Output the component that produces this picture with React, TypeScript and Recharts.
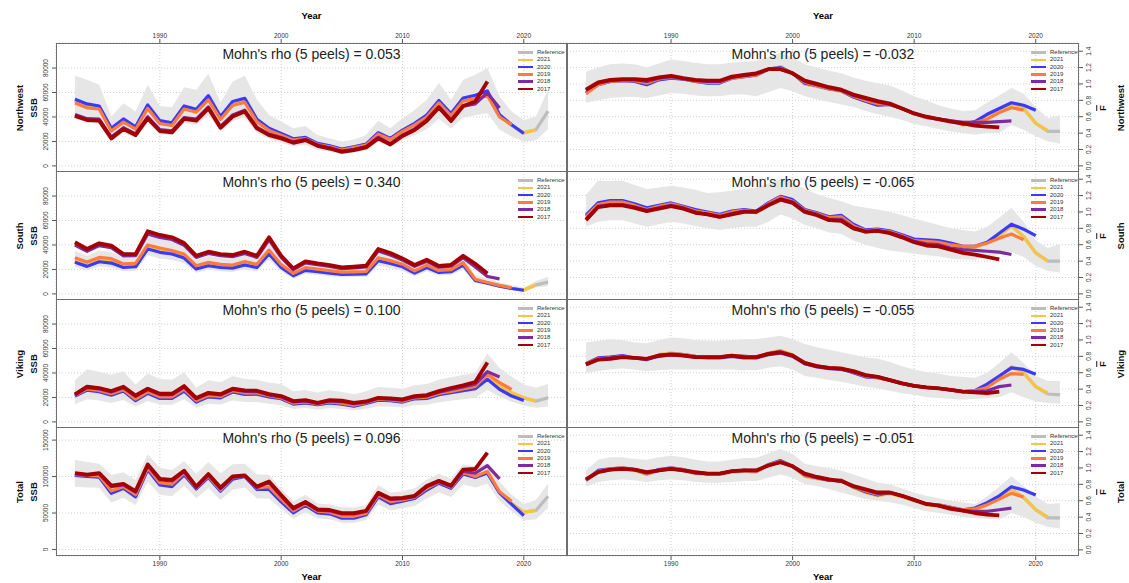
import React from 'react'
import { Area, CartesianGrid, ComposedChart, Line, XAxis, YAxis } from 'recharts'

// assessment years
const years = [
  1983, 1984, 1985, 1986, 1987, 1988, 1989, 1990, 1991, 1992,
  1993, 1994, 1995, 1996, 1997, 1998, 1999, 2000, 2001, 2002,
  2003, 2004, 2005, 2006, 2007, 2008, 2009, 2010, 2011, 2012,
  2013, 2014, 2015, 2016, 2017, 2018, 2019, 2020, 2021, 2022,
]

const seriesKeys = ['ref', 'r2021', 'r2020', 'r2019', 'r2018', 'r2017']
const legendLabels = ['Reference', '2021', '2020', '2019', '2018', '2017']
const seriesColors = ['#bdbdbd', '#f6c443', '#3a3aff', '#ff7b3c', '#7e2b9e', '#a40000']

const regions = ['Northwest', 'South', 'Viking', 'Total']
const ssbRho = ['0.053', '0.340', '0.100', '0.096']
const fRho = ['-0.032', '-0.065', '-0.055', '-0.051']

const xTicks = [1990, 2000, 2010, 2020]
const ssbTicks = [0, 20, 40, 60, 80] // thousand tonnes
const totalSsbTicks = [0, 50, 100, 150]
const fTicks = [0, 0.2, 0.4, 0.6, 0.8, 1.0, 1.2, 1.4]

// ---- SSB (thousand tonnes) ----
const nwSsbRef = [53.0, 49.2, 47.8, 29.8, 37.2, 31.0, 48.6, 35.9, 34.2, 47.8, 45.2, 55.9, 39.2, 51.2, 53.9, 37.1, 29.9, 25.8, 21.6, 22.8, 18.0, 16.0, 13.4, 15.3, 17.4, 26.6, 22.0, 28.8, 34.2, 40.9, 52.6, 42.0, 54.2, 56.0, 58.5, 40.8, 33.0, 27.2, 29.6, 44.7]
const nwSsb2021 = [53.2, 49.5, 48.0, 29.9, 37.4, 31.2, 48.8, 36.0, 34.4, 48.0, 45.4, 56.2, 39.4, 51.5, 54.2, 37.3, 30.0, 25.9, 21.7, 22.9, 18.1, 16.1, 13.5, 15.4, 17.5, 26.7, 22.1, 28.9, 34.3, 41.0, 52.8, 42.1, 54.4, 56.2, 58.8, 40.9, 33.2, 27.0, 29.6]
const nwSsb2020 = [54.5, 50.7, 49.0, 30.7, 38.4, 32.0, 49.9, 37.0, 35.3, 49.0, 46.3, 57.5, 40.3, 52.6, 55.3, 38.1, 30.7, 26.6, 22.2, 23.3, 18.4, 16.4, 13.7, 15.6, 17.8, 27.1, 22.5, 29.3, 34.8, 41.6, 53.5, 42.8, 55.5, 57.8, 61.3, 41.8, 33.6, 26.5]
const nwSsb2019 = [51.5, 47.5, 46.5, 28.5, 35.8, 30.0, 47.0, 34.5, 33.0, 46.5, 44.0, 54.0, 38.0, 49.5, 52.0, 36.0, 29.0, 25.0, 21.0, 22.3, 17.5, 15.6, 13.0, 15.0, 17.0, 26.0, 21.6, 28.2, 33.5, 40.0, 51.5, 41.0, 53.0, 55.0, 57.5, 40.0, 33.7]
const nwSsb2018 = [42.0, 38.6, 38.2, 23.6, 31.2, 26.2, 40.2, 29.6, 28.6, 39.6, 38.2, 48.2, 32.2, 41.6, 45.6, 31.6, 26.0, 23.2, 19.6, 21.8, 17.0, 14.8, 12.1, 13.5, 15.8, 23.4, 18.2, 25.2, 30.3, 37.8, 48.4, 37.6, 48.8, 50.7, 59.7, 47.4]
const nwSsb2017 = [40.8, 37.5, 37.0, 22.5, 30.1, 25.2, 38.9, 28.5, 27.4, 38.4, 37.0, 47.1, 31.2, 40.3, 44.4, 30.7, 25.2, 22.5, 18.9, 21.1, 16.4, 14.2, 11.5, 12.9, 15.1, 22.5, 17.5, 24.4, 29.3, 36.7, 47.7, 36.7, 49.0, 52.6, 69.0]
const nwSsbHi = [73.7, 70.4, 66.3, 40.3, 51.2, 44.4, 66.3, 49.0, 47.9, 64.4, 62.2, 75.3, 51.8, 69.0, 73.7, 54.0, 41.6, 36.2, 30.7, 32.6, 25.2, 22.5, 19.7, 21.6, 25.2, 37.0, 30.7, 38.9, 45.8, 54.0, 67.7, 54.0, 70.4, 74.5, 80.0, 56.7, 44.4, 37.5, 40.3, 62.2]
const nwSsbLo = [38.5, 35.5, 34.5, 20.5, 27.0, 22.5, 35.5, 26.0, 25.0, 35.0, 33.5, 41.5, 28.5, 37.0, 39.5, 27.0, 22.0, 19.0, 16.0, 17.0, 13.0, 11.5, 9.5, 11.0, 12.5, 19.5, 16.0, 21.0, 25.0, 30.0, 38.5, 30.5, 39.5, 41.5, 43.0, 29.5, 24.0, 20.0, 21.0, 30.0]

const soSsbRef = [27.0, 23.6, 27.4, 26.3, 22.6, 23.1, 37.9, 35.2, 33.7, 30.3, 21.2, 23.9, 22.5, 21.9, 24.5, 22.4, 33.7, 22.4, 15.4, 19.9, 18.7, 17.6, 16.5, 16.7, 16.9, 27.9, 25.7, 22.9, 17.5, 22.2, 18.0, 18.6, 24.1, 11.2, 9.0, 6.5, 4.5, 3.0, 7.4, 9.6]
const soSsb2021 = [27.0, 23.6, 27.5, 26.4, 22.6, 23.2, 38.0, 35.3, 33.8, 30.4, 21.3, 24.0, 22.6, 22.0, 24.6, 22.5, 33.8, 22.5, 15.5, 20.0, 18.8, 17.7, 16.6, 16.8, 17.0, 28.0, 25.8, 23.0, 17.6, 22.3, 18.1, 18.7, 24.2, 11.3, 9.0, 6.5, 4.6, 3.2, 7.4]
const soSsb2020 = [25.8, 22.5, 26.3, 25.2, 21.6, 22.2, 36.7, 34.0, 32.6, 29.3, 20.3, 23.0, 21.6, 21.1, 23.6, 21.6, 32.6, 21.6, 14.8, 19.2, 18.1, 17.0, 15.9, 16.2, 16.4, 27.1, 24.9, 22.2, 17.0, 21.6, 17.5, 18.1, 23.6, 11.0, 8.8, 6.3, 4.4, 3.0]
const soSsb2019 = [29.5, 26.0, 29.8, 28.8, 24.5, 25.0, 40.0, 37.5, 35.5, 32.5, 23.0, 25.8, 24.2, 23.6, 26.5, 24.2, 35.8, 24.0, 16.8, 21.5, 20.2, 19.0, 17.8, 18.0, 18.3, 29.5, 27.2, 24.3, 18.8, 23.5, 19.2, 19.8, 25.5, 12.0, 9.3, 7.0, 5.0]
const soSsb2018 = [40.0, 34.8, 39.5, 37.8, 31.0, 31.2, 49.0, 46.2, 44.5, 39.8, 29.8, 33.0, 31.2, 30.4, 33.0, 29.8, 44.2, 29.8, 19.8, 25.4, 23.8, 22.5, 20.6, 21.2, 22.0, 35.0, 31.8, 27.6, 22.5, 26.6, 21.8, 22.7, 29.6, 22.0, 14.2, 12.3]
const soSsb2017 = [42.2, 36.7, 41.4, 39.5, 32.6, 32.6, 51.2, 48.2, 46.3, 41.6, 31.2, 34.5, 32.6, 31.8, 34.5, 31.2, 46.3, 31.2, 20.8, 26.6, 24.9, 23.6, 21.6, 22.2, 23.0, 36.7, 33.4, 29.0, 23.6, 27.9, 22.8, 23.8, 31.2, 24.6, 16.6]
const soSsbHi = [35.0, 31.0, 35.5, 34.0, 29.5, 30.0, 49.0, 45.5, 43.5, 39.5, 28.0, 31.0, 29.5, 28.8, 32.0, 29.5, 44.0, 29.5, 20.5, 26.0, 24.5, 23.0, 21.8, 22.0, 22.3, 36.0, 33.5, 30.0, 23.2, 29.0, 23.8, 24.5, 31.5, 15.5, 12.5, 9.5, 7.0, 5.2, 10.5, 14.0]
const soSsbLo = [22.0, 19.2, 22.5, 21.5, 18.5, 19.0, 31.5, 29.0, 27.8, 25.0, 17.3, 19.8, 18.5, 18.0, 20.2, 18.5, 28.0, 18.5, 12.5, 16.5, 15.4, 14.4, 13.6, 13.8, 14.0, 23.0, 21.2, 18.8, 14.5, 18.5, 15.0, 15.5, 20.0, 9.0, 7.0, 5.0, 3.3, 2.0, 5.2, 6.2]

const viSsbRef = [21.5, 26.6, 25.3, 22.5, 25.8, 18.0, 24.0, 19.9, 19.9, 26.0, 16.8, 21.0, 20.3, 25.0, 23.0, 23.2, 21.0, 19.3, 14.9, 16.0, 14.3, 16.0, 14.9, 13.2, 15.4, 18.1, 17.6, 16.6, 19.3, 19.7, 22.7, 24.4, 26.2, 28.0, 36.8, 29.3, 23.6, 19.6, 17.0, 19.7]
const viSsb2021 = [21.5, 26.6, 25.3, 22.5, 25.8, 18.0, 24.0, 19.9, 19.9, 26.0, 16.8, 21.0, 20.3, 25.0, 23.0, 23.2, 21.0, 19.3, 14.9, 16.0, 14.3, 16.0, 14.9, 13.2, 15.4, 18.1, 17.6, 16.6, 19.3, 19.7, 22.7, 24.4, 26.2, 28.0, 37.0, 29.5, 23.8, 19.7, 17.0]
const viSsb2020 = [21.1, 26.0, 24.7, 21.9, 25.2, 17.3, 23.3, 19.2, 19.2, 25.2, 16.2, 20.5, 19.7, 24.4, 22.5, 22.7, 20.5, 18.9, 14.5, 15.6, 14.0, 15.6, 14.5, 12.9, 15.1, 17.8, 17.3, 16.2, 18.9, 19.2, 22.2, 23.8, 25.5, 27.1, 34.8, 26.6, 21.1, 17.5]
const viSsb2019 = [21.8, 27.0, 25.8, 23.0, 26.3, 18.6, 24.6, 20.5, 20.5, 26.8, 17.4, 21.6, 20.8, 25.5, 23.6, 23.7, 21.4, 19.7, 15.3, 16.3, 14.6, 16.3, 15.3, 13.6, 15.8, 18.5, 18.0, 17.0, 19.7, 20.2, 23.2, 25.0, 27.0, 29.0, 39.0, 32.1, 26.6]
const viSsb2018 = [22.0, 28.0, 27.0, 24.5, 28.0, 20.8, 26.4, 22.3, 22.3, 28.5, 18.8, 23.1, 22.0, 26.5, 25.0, 24.8, 22.0, 20.4, 16.3, 17.1, 15.1, 17.1, 16.6, 14.9, 16.2, 19.1, 18.6, 17.8, 20.3, 21.1, 24.3, 26.5, 28.5, 30.8, 41.1, 36.7]
const viSsb2017 = [22.5, 28.8, 27.7, 25.2, 28.8, 21.6, 27.1, 23.0, 23.0, 29.3, 19.5, 23.8, 22.7, 27.1, 25.8, 25.5, 22.7, 21.1, 17.0, 17.8, 15.6, 17.8, 17.3, 15.6, 16.7, 19.7, 19.2, 18.4, 21.1, 21.9, 25.2, 27.7, 29.9, 32.6, 48.5]
const viSsbHi = [34.0, 43.0, 41.0, 38.5, 41.5, 30.5, 39.5, 35.0, 34.5, 40.5, 28.0, 34.0, 32.5, 37.5, 35.0, 34.5, 32.0, 31.0, 25.0, 26.0, 24.0, 26.0, 24.5, 22.5, 25.0, 28.5, 28.0, 27.0, 30.0, 31.0, 34.5, 36.5, 38.5, 40.0, 56.0, 44.0, 37.0, 30.5, 28.0, 31.0]
const viSsbLo = [14.5, 18.5, 17.5, 15.5, 18.0, 12.5, 17.0, 14.0, 14.0, 18.5, 11.8, 14.8, 14.3, 17.5, 16.2, 16.3, 14.8, 13.6, 10.5, 11.3, 10.0, 11.3, 10.5, 9.3, 10.8, 12.8, 12.4, 11.7, 13.6, 14.0, 16.0, 17.2, 18.5, 19.8, 26.0, 20.5, 16.5, 13.5, 11.5, 12.5]

const toSsbRef = [102.0, 100.6, 99.8, 78.0, 84.6, 73.2, 110.3, 89.5, 87.2, 103.3, 83.5, 99.3, 80.6, 97.0, 100.5, 83.0, 83.5, 66.5, 51.2, 61.3, 51.0, 49.6, 43.8, 43.8, 48.2, 73.0, 63.8, 66.9, 70.5, 82.4, 91.5, 84.5, 104.0, 99.3, 105.5, 78.4, 62.8, 51.0, 53.5, 73.1]
const toSsb2021 = [102.0, 100.6, 99.8, 78.0, 84.6, 73.2, 110.3, 89.5, 87.2, 103.3, 83.5, 99.3, 80.6, 97.0, 100.5, 83.0, 83.5, 66.5, 51.2, 61.3, 51.0, 49.6, 43.8, 43.8, 48.2, 73.0, 63.8, 66.9, 70.5, 82.4, 91.5, 84.5, 104.0, 99.3, 105.5, 78.5, 63.0, 51.2, 53.5]
const toSsb2020 = [101.6, 100.2, 99.3, 76.9, 83.9, 72.2, 109.5, 88.5, 86.2, 102.5, 83.0, 98.8, 80.1, 96.5, 100.2, 82.5, 82.5, 65.2, 50.3, 60.6, 50.3, 48.9, 42.9, 42.9, 47.5, 72.2, 62.9, 66.2, 69.9, 81.5, 90.9, 83.9, 103.4, 98.8, 104.8, 77.7, 61.9, 46.5]
const toSsb2019 = [103.0, 101.5, 101.0, 80.5, 86.0, 75.0, 112.0, 91.5, 89.5, 105.0, 84.5, 100.5, 81.5, 98.5, 101.0, 84.5, 86.0, 69.0, 53.0, 62.5, 52.5, 51.0, 45.5, 45.5, 49.5, 74.5, 65.5, 68.0, 71.5, 84.0, 92.5, 85.5, 106.0, 100.1, 107.1, 79.1, 66.1]
const toSsb2018 = [104.0, 101.8, 104.0, 86.0, 88.5, 78.5, 115.0, 95.5, 94.0, 106.8, 85.0, 102.0, 83.5, 99.0, 100.8, 85.0, 92.0, 73.2, 55.5, 64.0, 53.8, 53.0, 48.6, 48.6, 52.0, 76.5, 68.8, 69.8, 72.5, 86.0, 93.0, 86.5, 107.0, 104.8, 115.0, 96.9]
const toSsb2017 = [104.8, 102.5, 104.8, 87.6, 89.9, 80.1, 116.5, 96.9, 95.5, 108.1, 86.2, 103.4, 84.8, 100.2, 101.6, 86.2, 93.2, 74.6, 56.9, 65.2, 55.0, 54.1, 49.9, 49.9, 53.1, 77.8, 69.9, 70.8, 73.6, 87.1, 94.1, 87.6, 109.5, 110.4, 133.0]
const toSsbHi = [123.0, 120.0, 117.5, 102.0, 106.0, 95.5, 130.5, 112.0, 109.0, 121.0, 104.0, 120.0, 104.5, 117.0, 117.5, 103.0, 102.5, 83.0, 66.0, 75.0, 63.0, 61.5, 58.0, 57.5, 60.5, 88.5, 78.0, 80.0, 84.0, 96.0, 104.0, 97.0, 117.0, 114.0, 118.0, 93.0, 75.0, 62.5, 68.0, 90.5]
const toSsbLo = [86.0, 85.0, 84.5, 64.5, 71.0, 61.0, 93.0, 75.0, 73.0, 87.5, 70.5, 84.0, 68.0, 82.0, 85.0, 70.0, 70.0, 55.5, 42.0, 51.0, 42.5, 41.5, 36.5, 36.5, 40.5, 61.5, 53.5, 56.5, 59.5, 70.0, 78.0, 72.0, 89.0, 85.0, 90.0, 66.0, 52.0, 40.0, 41.5, 57.0]

// ---- mean F ----
const nwFRef = [0.89, 0.99, 1.03, 1.04, 1.04, 1.00, 1.06, 1.08, 1.06, 1.03, 1.02, 1.02, 1.07, 1.09, 1.10, 1.18, 1.21, 1.13, 1.00, 0.97, 0.94, 0.91, 0.84, 0.79, 0.74, 0.75, 0.70, 0.64, 0.59, 0.57, 0.55, 0.50, 0.52, 0.60, 0.68, 0.74, 0.70, 0.52, 0.42, 0.42]
const nwF2021 = [0.89, 0.99, 1.03, 1.04, 1.04, 1.00, 1.06, 1.08, 1.06, 1.03, 1.02, 1.02, 1.07, 1.09, 1.10, 1.18, 1.21, 1.13, 1.00, 0.97, 0.94, 0.91, 0.84, 0.79, 0.74, 0.75, 0.70, 0.64, 0.59, 0.57, 0.55, 0.50, 0.52, 0.60, 0.68, 0.74, 0.70, 0.52, 0.43]
const nwF2020 = [0.89, 0.99, 1.03, 1.04, 1.03, 0.99, 1.05, 1.07, 1.06, 1.03, 1.01, 1.01, 1.07, 1.09, 1.11, 1.18, 1.20, 1.13, 1.01, 0.98, 0.94, 0.92, 0.84, 0.79, 0.74, 0.75, 0.70, 0.64, 0.59, 0.57, 0.55, 0.51, 0.54, 0.63, 0.70, 0.77, 0.74, 0.68]
const nwF2019 = [0.88, 0.99, 1.03, 1.04, 1.04, 1.01, 1.06, 1.08, 1.06, 1.03, 1.02, 1.02, 1.07, 1.09, 1.11, 1.18, 1.19, 1.13, 1.02, 0.98, 0.94, 0.92, 0.85, 0.80, 0.76, 0.75, 0.70, 0.64, 0.59, 0.57, 0.55, 0.53, 0.53, 0.57, 0.65, 0.71, 0.68]
const nwF2018 = [0.92, 1.01, 1.04, 1.05, 1.05, 1.03, 1.07, 1.09, 1.06, 1.04, 1.03, 1.03, 1.08, 1.10, 1.12, 1.18, 1.18, 1.13, 1.03, 0.99, 0.95, 0.92, 0.86, 0.82, 0.78, 0.75, 0.70, 0.64, 0.60, 0.57, 0.55, 0.53, 0.53, 0.53, 0.54, 0.55]
const nwF2017 = [0.93, 1.02, 1.05, 1.06, 1.06, 1.05, 1.08, 1.10, 1.07, 1.05, 1.04, 1.04, 1.09, 1.11, 1.13, 1.18, 1.18, 1.13, 1.04, 1.00, 0.96, 0.93, 0.87, 0.83, 0.79, 0.76, 0.70, 0.64, 0.60, 0.57, 0.54, 0.52, 0.49, 0.48, 0.47]
const nwFHi = [1.15, 1.20, 1.24, 1.25, 1.24, 1.20, 1.25, 1.30, 1.28, 1.26, 1.24, 1.24, 1.26, 1.27, 1.28, 1.33, 1.38, 1.32, 1.24, 1.20, 1.16, 1.13, 1.08, 1.04, 1.01, 0.98, 0.92, 0.85, 0.80, 0.74, 0.70, 0.67, 0.68, 0.77, 0.86, 0.95, 0.88, 0.72, 0.58, 0.62]
const nwFLo = [0.77, 0.80, 0.83, 0.84, 0.84, 0.83, 0.86, 0.89, 0.88, 0.86, 0.85, 0.85, 0.87, 0.87, 0.85, 0.90, 0.95, 0.91, 0.85, 0.81, 0.78, 0.75, 0.72, 0.67, 0.63, 0.60, 0.56, 0.51, 0.48, 0.45, 0.42, 0.40, 0.38, 0.40, 0.40, 0.50, 0.44, 0.36, 0.30, 0.27]

const soFRef = [0.95, 1.10, 1.13, 1.13, 1.09, 1.04, 1.07, 1.10, 1.06, 1.02, 0.99, 0.96, 1.00, 1.02, 0.99, 1.10, 1.18, 1.14, 1.02, 0.98, 0.92, 0.94, 0.83, 0.75, 0.78, 0.76, 0.71, 0.65, 0.64, 0.63, 0.60, 0.57, 0.57, 0.62, 0.71, 0.83, 0.70, 0.50, 0.40, 0.40]
const soF2021 = [0.95, 1.10, 1.13, 1.13, 1.09, 1.04, 1.07, 1.10, 1.06, 1.02, 0.99, 0.96, 1.00, 1.02, 0.99, 1.10, 1.18, 1.14, 1.02, 0.98, 0.92, 0.94, 0.83, 0.75, 0.78, 0.76, 0.71, 0.65, 0.64, 0.63, 0.60, 0.57, 0.57, 0.62, 0.71, 0.83, 0.70, 0.50, 0.40]
const soF2020 = [0.96, 1.11, 1.14, 1.14, 1.10, 1.05, 1.08, 1.11, 1.07, 1.03, 1.00, 0.97, 1.01, 1.03, 1.01, 1.11, 1.19, 1.15, 1.03, 0.99, 0.94, 0.96, 0.85, 0.78, 0.79, 0.77, 0.72, 0.67, 0.66, 0.65, 0.62, 0.58, 0.58, 0.63, 0.74, 0.85, 0.79, 0.71]
const soF2019 = [0.94, 1.09, 1.12, 1.12, 1.08, 1.03, 1.07, 1.10, 1.06, 1.01, 0.99, 0.96, 1.00, 1.02, 1.00, 1.10, 1.18, 1.13, 1.02, 0.98, 0.93, 0.94, 0.83, 0.77, 0.78, 0.76, 0.71, 0.65, 0.64, 0.63, 0.60, 0.58, 0.58, 0.62, 0.68, 0.73, 0.66]
const soF2018 = [0.91, 1.07, 1.09, 1.09, 1.06, 1.02, 1.05, 1.08, 1.05, 1.00, 0.97, 0.94, 0.98, 1.01, 1.00, 1.09, 1.16, 1.12, 1.01, 0.97, 0.91, 0.91, 0.81, 0.76, 0.77, 0.75, 0.70, 0.64, 0.61, 0.60, 0.56, 0.54, 0.53, 0.52, 0.51, 0.48]
const soF2017 = [0.90, 1.06, 1.08, 1.08, 1.05, 1.01, 1.04, 1.07, 1.04, 0.99, 0.97, 0.94, 0.97, 1.00, 1.00, 1.08, 1.15, 1.11, 1.00, 0.96, 0.90, 0.89, 0.80, 0.76, 0.77, 0.74, 0.69, 0.63, 0.59, 0.58, 0.54, 0.50, 0.48, 0.45, 0.42]
const soFHi = [1.21, 1.38, 1.38, 1.38, 1.33, 1.28, 1.30, 1.32, 1.30, 1.27, 1.23, 1.24, 1.26, 1.28, 1.30, 1.35, 1.40, 1.36, 1.28, 1.22, 1.17, 1.13, 1.08, 1.05, 1.03, 1.00, 0.96, 0.92, 0.88, 0.84, 0.80, 0.78, 0.76, 0.82, 0.93, 1.05, 0.88, 0.65, 0.56, 0.61]
const soFLo = [0.82, 0.88, 0.90, 0.90, 0.86, 0.82, 0.85, 0.88, 0.86, 0.83, 0.80, 0.78, 0.80, 0.82, 0.82, 0.88, 0.97, 0.92, 0.84, 0.80, 0.75, 0.73, 0.65, 0.60, 0.56, 0.53, 0.51, 0.49, 0.47, 0.46, 0.43, 0.42, 0.42, 0.45, 0.48, 0.51, 0.45, 0.34, 0.28, 0.26]

const viFRef = [0.71, 0.78, 0.79, 0.80, 0.78, 0.77, 0.82, 0.84, 0.82, 0.80, 0.79, 0.79, 0.81, 0.80, 0.78, 0.84, 0.87, 0.82, 0.71, 0.68, 0.66, 0.66, 0.60, 0.55, 0.54, 0.51, 0.47, 0.44, 0.42, 0.41, 0.39, 0.37, 0.38, 0.45, 0.55, 0.67, 0.60, 0.43, 0.34, 0.33]
const viF2021 = [0.71, 0.78, 0.79, 0.80, 0.78, 0.77, 0.82, 0.84, 0.82, 0.80, 0.79, 0.79, 0.81, 0.80, 0.78, 0.84, 0.87, 0.82, 0.71, 0.68, 0.66, 0.66, 0.60, 0.55, 0.54, 0.51, 0.47, 0.44, 0.42, 0.41, 0.39, 0.37, 0.38, 0.45, 0.55, 0.67, 0.60, 0.43, 0.35]
const viF2020 = [0.71, 0.78, 0.79, 0.81, 0.78, 0.76, 0.81, 0.83, 0.82, 0.80, 0.79, 0.79, 0.81, 0.80, 0.79, 0.83, 0.86, 0.81, 0.71, 0.68, 0.66, 0.65, 0.60, 0.55, 0.54, 0.51, 0.47, 0.44, 0.42, 0.41, 0.39, 0.37, 0.38, 0.46, 0.56, 0.66, 0.64, 0.58]
const viF2019 = [0.71, 0.77, 0.78, 0.80, 0.78, 0.77, 0.81, 0.83, 0.82, 0.80, 0.79, 0.79, 0.81, 0.80, 0.79, 0.83, 0.86, 0.81, 0.72, 0.68, 0.66, 0.65, 0.61, 0.56, 0.54, 0.51, 0.47, 0.44, 0.42, 0.41, 0.39, 0.37, 0.38, 0.42, 0.52, 0.59, 0.58]
const viF2018 = [0.70, 0.76, 0.78, 0.79, 0.78, 0.77, 0.80, 0.82, 0.81, 0.79, 0.78, 0.78, 0.80, 0.78, 0.78, 0.82, 0.84, 0.80, 0.71, 0.67, 0.65, 0.64, 0.61, 0.57, 0.55, 0.51, 0.47, 0.44, 0.42, 0.41, 0.39, 0.37, 0.37, 0.38, 0.43, 0.45]
const viF2017 = [0.70, 0.76, 0.77, 0.79, 0.78, 0.77, 0.81, 0.82, 0.81, 0.79, 0.79, 0.79, 0.81, 0.79, 0.79, 0.83, 0.85, 0.81, 0.72, 0.68, 0.66, 0.65, 0.62, 0.57, 0.55, 0.51, 0.47, 0.44, 0.42, 0.41, 0.39, 0.37, 0.36, 0.35, 0.37]
const viFHi = [0.97, 0.99, 1.01, 1.00, 0.97, 0.96, 1.00, 1.03, 1.02, 1.00, 0.99, 0.99, 1.00, 1.01, 1.01, 1.03, 1.05, 1.01, 0.95, 0.91, 0.88, 0.85, 0.82, 0.79, 0.77, 0.73, 0.68, 0.64, 0.61, 0.59, 0.56, 0.55, 0.54, 0.60, 0.72, 0.85, 0.72, 0.56, 0.50, 0.50]
const viFLo = [0.60, 0.62, 0.64, 0.65, 0.64, 0.62, 0.63, 0.64, 0.64, 0.64, 0.64, 0.64, 0.64, 0.63, 0.63, 0.66, 0.68, 0.64, 0.56, 0.54, 0.51, 0.49, 0.46, 0.43, 0.41, 0.38, 0.35, 0.33, 0.30, 0.29, 0.28, 0.27, 0.28, 0.29, 0.30, 0.36, 0.30, 0.25, 0.23, 0.22]

const toFRef = [0.85, 0.96, 0.98, 0.99, 0.97, 0.92, 0.97, 0.99, 0.97, 0.93, 0.92, 0.92, 0.95, 0.96, 0.95, 1.04, 1.09, 1.02, 0.90, 0.87, 0.85, 0.85, 0.76, 0.70, 0.66, 0.69, 0.65, 0.60, 0.55, 0.54, 0.51, 0.48, 0.49, 0.55, 0.64, 0.74, 0.64, 0.49, 0.39, 0.39]
const toF2021 = [0.85, 0.96, 0.98, 0.99, 0.97, 0.92, 0.97, 0.99, 0.97, 0.93, 0.92, 0.92, 0.95, 0.96, 0.95, 1.04, 1.09, 1.02, 0.90, 0.87, 0.85, 0.85, 0.76, 0.70, 0.66, 0.69, 0.65, 0.60, 0.55, 0.54, 0.51, 0.48, 0.49, 0.55, 0.64, 0.74, 0.64, 0.49, 0.40]
const toF2020 = [0.85, 0.97, 0.99, 1.00, 0.98, 0.93, 0.98, 1.00, 0.98, 0.94, 0.93, 0.93, 0.96, 0.97, 0.96, 1.04, 1.09, 1.02, 0.91, 0.88, 0.85, 0.85, 0.77, 0.71, 0.67, 0.70, 0.66, 0.61, 0.56, 0.55, 0.52, 0.49, 0.51, 0.575, 0.66, 0.77, 0.73, 0.67]
const toF2019 = [0.85, 0.96, 0.99, 1.00, 0.98, 0.93, 0.97, 1.00, 0.98, 0.94, 0.93, 0.93, 0.96, 0.97, 0.96, 1.04, 1.08, 1.02, 0.91, 0.88, 0.85, 0.85, 0.77, 0.72, 0.68, 0.70, 0.66, 0.61, 0.56, 0.55, 0.52, 0.49, 0.50, 0.55, 0.62, 0.69, 0.645]
const toF2018 = [0.86, 0.95, 0.98, 0.99, 0.98, 0.94, 0.97, 0.99, 0.97, 0.94, 0.93, 0.93, 0.96, 0.97, 0.97, 1.03, 1.07, 1.02, 0.92, 0.88, 0.85, 0.84, 0.77, 0.73, 0.69, 0.70, 0.66, 0.61, 0.56, 0.54, 0.51, 0.48, 0.47, 0.47, 0.49, 0.51]
const toF2017 = [0.86, 0.95, 0.98, 0.99, 0.98, 0.95, 0.97, 0.99, 0.97, 0.95, 0.93, 0.93, 0.96, 0.97, 0.97, 1.03, 1.07, 1.02, 0.93, 0.89, 0.86, 0.84, 0.78, 0.74, 0.70, 0.70, 0.66, 0.61, 0.56, 0.54, 0.50, 0.48, 0.45, 0.43, 0.42]
const toFHi = [0.97, 1.10, 1.13, 1.13, 1.11, 1.10, 1.13, 1.15, 1.13, 1.10, 1.08, 1.08, 1.10, 1.12, 1.12, 1.18, 1.23, 1.17, 1.05, 1.02, 1.00, 0.97, 0.92, 0.87, 0.82, 0.80, 0.75, 0.70, 0.66, 0.63, 0.60, 0.58, 0.56, 0.65, 0.77, 0.90, 0.78, 0.65, 0.56, 0.57]
const toFLo = [0.77, 0.83, 0.85, 0.86, 0.85, 0.83, 0.85, 0.86, 0.85, 0.83, 0.82, 0.82, 0.83, 0.84, 0.84, 0.88, 0.92, 0.88, 0.80, 0.78, 0.74, 0.70, 0.66, 0.62, 0.60, 0.58, 0.55, 0.51, 0.47, 0.45, 0.43, 0.40, 0.39, 0.38, 0.37, 0.45, 0.40, 0.33, 0.28, 0.26]

const ssbSeries = [
  [nwSsbRef, nwSsb2021, nwSsb2020, nwSsb2019, nwSsb2018, nwSsb2017, nwSsbLo, nwSsbHi],
  [soSsbRef, soSsb2021, soSsb2020, soSsb2019, soSsb2018, soSsb2017, soSsbLo, soSsbHi],
  [viSsbRef, viSsb2021, viSsb2020, viSsb2019, viSsb2018, viSsb2017, viSsbLo, viSsbHi],
  [toSsbRef, toSsb2021, toSsb2020, toSsb2019, toSsb2018, toSsb2017, toSsbLo, toSsbHi],
]
const fSeries = [
  [nwFRef, nwF2021, nwF2020, nwF2019, nwF2018, nwF2017, nwFLo, nwFHi],
  [soFRef, soF2021, soF2020, soF2019, soF2018, soF2017, soFLo, soFHi],
  [viFRef, viF2021, viF2020, viF2019, viF2018, viF2017, viFLo, viFHi],
  [toFRef, toF2021, toF2020, toF2019, toF2018, toF2017, toFLo, toFHi],
]

const buildRows = (arrs: number[][]) =>
  years.map((year, i) => {
    const row: any = { year, band: [arrs[6][i], arrs[7][i]] }
    seriesKeys.forEach((k, j) => {
      row[k] = arrs[j][i]
    })
    return row
  })

// layout
const FONT = "'Liberation Sans', Arial, Helvetica, sans-serif"
const ROW_TOP = [43, 171, 299, 427]
const ROW_H = 129
const COL_X = [56, 567]
const COL_W = [511, 512]
const Y_W = 24
const X_H = 14
const X_DOMAIN = [1981.44, 2023.56]

const RotTick = (props: any) => {
  const { x, y, payload, side, fmt } = props
  const tx = side === 'left' ? x - 2.5 : x + 5.5
  return (
    <text transform={`translate(${tx},${y}) rotate(-90)`} textAnchor="middle" fontSize={6.5} fill="#333" fontFamily={FONT}>
      {fmt(payload.value)}
    </text>
  )
}

const PanelLegend = ({ left, top }: { left: number; top: number }) => (
  <div style={{ position: 'absolute', left, top }}>
    {legendLabels.map((lab, i) => (
      <div key={lab} style={{ position: 'absolute', left: 0, top: i * 7.3, height: 7, display: 'flex', alignItems: 'center', whiteSpace: 'nowrap' }}>
        <span style={{ display: 'inline-block', width: 15, height: 2.6, background: seriesColors[i] }} />
        <span style={{ marginLeft: 4, fontSize: 6, lineHeight: '7px', color: '#333' }}>{lab}</span>
      </div>
    ))}
  </div>
)

const Rotated = ({ cx, cy, children, size = 9.5, bold = true }: any) => (
  <div
    style={{
      position: 'absolute', left: cx, top: cy, transform: 'translate(-50%,-50%) rotate(-90deg)',
      fontSize: size, fontWeight: bold ? 700 : 400, whiteSpace: 'nowrap', color: '#111', lineHeight: 1,
    }}
  >
    {children}
  </div>
)

const Panel = ({ row, col }: { row: number; col: number }) => {
  const isF = col === 1
  const arrs = isF ? fSeries[row] : ssbSeries[row]
  const data = buildRows(arrs)
  const fx = COL_X[col]
  const fy = ROW_TOP[row]
  const fw = COL_W[col]
  const showTop = row === 0
  const showBottom = row === 3
  const chartLeft = isF ? fx : fx - Y_W
  const chartTop = showTop ? fy - X_H : fy
  const chartW = fw + Y_W
  const chartH = ROW_H + (showTop || showBottom ? X_H : 0)

  let yDomain: number[]
  let yTicks: number[]
  let fmt: (v: number) => string
  if (isF) {
    yDomain = [-0.075, 1.5]
    yTicks = fTicks
    fmt = (v) => v.toFixed(1)
  } else if (row === 3) {
    yDomain = [-9, 168]
    yTicks = totalSsbTicks
    fmt = (v) => String(Math.round(v * 1000))
  } else {
    yDomain = [-5, 100.5]
    yTicks = ssbTicks
    fmt = (v) => String(Math.round(v * 1000))
  }
  const side = isF ? 'right' : 'left'
  const title = `Mohn's rho (5 peels) = ${isF ? fRho[row] : ssbRho[row]}`

  return (
    <>
      <div style={{ position: 'absolute', left: chartLeft, top: chartTop }}>
        <ComposedChart width={chartW} height={chartH} data={data} margin={{ top: 0, right: 0, bottom: 0, left: 0 }}>
          <CartesianGrid stroke="#cfcfcf" strokeDasharray="1 2" />
          <XAxis
            dataKey="year"
            type="number"
            domain={X_DOMAIN}
            ticks={xTicks}
            interval={0}
            allowDataOverflow
            hide={!(showTop || showBottom)}
            orientation={showTop ? 'top' : 'bottom'}
            height={X_H}
            axisLine={false}
            tickLine={{ stroke: '#555' }}
            tickSize={4}
            tickMargin={1}
            tick={{ fontSize: 6.5, fill: '#333', fontFamily: FONT }}
          />
          <YAxis
            type="number"
            orientation={side}
            width={Y_W}
            domain={yDomain}
            ticks={yTicks}
            interval={0}
            allowDataOverflow
            axisLine={false}
            tickLine={{ stroke: '#555' }}
            tickSize={4}
            tick={<RotTick side={side} fmt={fmt} />}
          />
          <Area dataKey="band" type="linear" stroke="none" fill="#e6e6e6" fillOpacity={1} isAnimationActive={false} activeDot={false} />
          {seriesKeys.map((k, j) => (
            <Line
              key={k}
              dataKey={k}
              type="linear"
              stroke={seriesColors[j]}
              strokeWidth={j === 5 ? 3.8 : 3.2}
              strokeLinejoin="round"
              dot={false}
              activeDot={false}
              isAnimationActive={false}
            />
          ))}
        </ComposedChart>
      </div>
      <div
        style={{
          position: 'absolute', left: fx, top: fy, width: fw, height: ROW_H, boxSizing: 'border-box',
          border: '1.5px solid #6f6f6f', pointerEvents: 'none',
        }}
      />
      <div style={{ position: 'absolute', left: fx, top: fy + 2, width: fw, textAlign: 'center', fontSize: 14, lineHeight: '18px', color: '#222' }}>
        {title}
      </div>
      <PanelLegend left={fx + (isF ? 464 : 462)} top={fy + 6} />
    </>
  )
}

export default function App() {
  const rowsIdx = [0, 1, 2, 3]
  return (
    <div style={{ position: 'absolute', left: 0, top: 0, width: 1129, height: 583, background: '#fff', fontFamily: FONT, overflow: 'hidden' }}>
      {rowsIdx.map((r) => (
        <React.Fragment key={r}>
          <Panel row={r} col={0} />
          <Panel row={r} col={1} />
          <Rotated cx={20} cy={ROW_TOP[r] + ROW_H / 2}>{regions[r]}</Rotated>
          <Rotated cx={34} cy={ROW_TOP[r] + ROW_H / 2}>SSB</Rotated>
          <Rotated cx={1103} cy={ROW_TOP[r] + ROW_H / 2}>
            <span style={{ textDecoration: 'overline' }}>F</span>
          </Rotated>
          <Rotated cx={1121} cy={ROW_TOP[r] + ROW_H / 2}>{regions[r]}</Rotated>
        </React.Fragment>
      ))}
      <div style={{ position: 'absolute', left: 56, width: 511, top: 10, textAlign: 'center', fontSize: 9.5, fontWeight: 700 }}>Year</div>
      <div style={{ position: 'absolute', left: 567, width: 512, top: 10, textAlign: 'center', fontSize: 9.5, fontWeight: 700 }}>Year</div>
      <div style={{ position: 'absolute', left: 56, width: 511, top: 571, textAlign: 'center', fontSize: 9.5, fontWeight: 700 }}>Year</div>
      <div style={{ position: 'absolute', left: 567, width: 512, top: 571, textAlign: 'center', fontSize: 9.5, fontWeight: 700 }}>Year</div>
    </div>
  )
}
